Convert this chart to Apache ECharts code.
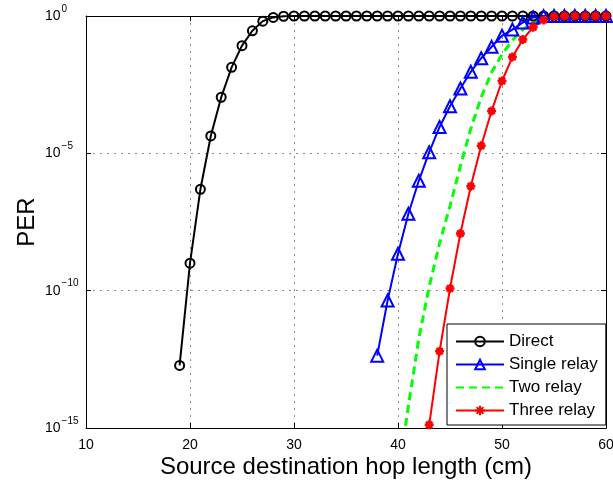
<!DOCTYPE html>
<html>
<head>
<meta charset="utf-8">
<script src="https://cdn.jsdelivr.net/npm/echarts@6/dist/echarts.min.js"></script>
<style>html,body{margin:0;padding:0;background:#fff}#c{width:613px;height:480px}</style>
</head>
<body>
<div id="c"></div>
<script>
// ---- data ----
const seriesNames = ['Direct', 'Single relay', 'Two relay', 'Three relay'];
const directX = [19,20,21,22,23,24,25,26,27,28,29,30,31,32,33,34,35,36,37,38,39,40,41,42,43,44,45,46,47,48,49,50,51,52,53,54,55,56,57,58,59,60];
const directPER = [1.9e-13,1.0e-9,4.9e-7,4.3e-5,1.1e-3,1.35e-2,8.3e-2,0.29,0.65,0.89,0.98,1,1,1,1,1,1,1,1,1,1,1,1,1,1,1,1,1,1,1,1,1,1,1,1,1,1,1,1,1,1,1];
const singleX = [38,39,40,41,42,43,44,45,46,47,48,49,50,51,52,53,54,55,56,57,58,59,60];
const singlePER = [4.3e-13,4.4e-11,2.2e-9,6.3e-8,1.0e-6,1.1e-5,9.1e-5,5.2e-4,2.3e-3,9.3e-3,2.9e-2,7.6e-2,0.19,0.32,0.58,0.89,0.99,1,1,1,1,1,1];
const twoX = [40,41,42,43,44,45,46,47,48,49,50,51,52,53,54,55,56,57,58,59,60];
const twoPER = [1.6e-17,6.3e-15,1.8e-12,1.4e-10,5.4e-9,1.2e-7,3.5e-6,7.9e-5,1.1e-3,8.9e-3,0.040,0.13,0.32,0.60,0.87,0.98,1,1,1,1,1];
const threeX = [43,44,45,46,47,48,49,50,51,52,53,54,55,56,57,58,59,60];
const threePER = [1.3e-15,6.2e-13,1.2e-10,1.2e-8,6.3e-7,1.9e-5,3.5e-4,4.3e-3,3.2e-2,0.14,0.39,0.71,0.95,1,1,1,1,1];
const xTicks = [10,20,30,40,50,60];
const yTickExponents = [-15,-10,-5,0];

// ---- chart ----
const FONT = 'Liberation Sans, Arial, Helvetica, sans-serif';
const pair = (xs, ys) => xs.map((x, i) => [x, ys[i]]);
const chart = echarts.init(document.getElementById('c'), null, {renderer: 'canvas'});
const gridLine = {show: true, lineStyle: {color: '#8c8c8c', width: 1, type: [2, 5]}};
const boxLine = {show: true, onZero: false, lineStyle: {color: '#000', width: 1}};
const tickIn = {show: true, inside: true, length: 5, lineStyle: {color: '#000', width: 1}};
const asterisk = 'path://M5,0L5,10M0,5L10,5M1.5,1.5L8.5,8.5M1.5,8.5L8.5,1.5';

chart.setOption({
  animation: false,
  backgroundColor: '#fff',
  grid: {left: 86, top: 16, right: 7, bottom: 52, containLabel: false, outerBoundsMode: 'none'},
  xAxis: [{
    type: 'value', min: xTicks[0], max: xTicks[xTicks.length - 1], interval: 10,
    position: 'bottom',
    axisLine: boxLine, axisTick: tickIn, splitLine: gridLine,
    axisLabel: {color: '#000', fontSize: 14, fontFamily: FONT, margin: 10,
      formatter: v => xTicks.includes(v) ? String(v) : ''},
    name: 'Source destination hop length (cm)', nameLocation: 'middle', nameGap: 27,
    nameMoveOverlap: false,
    nameTextStyle: {color: '#000', fontSize: 24, fontFamily: FONT}
  }, {
    type: 'value', min: xTicks[0], max: xTicks[xTicks.length - 1], interval: 10,
    position: 'top', axisLine: boxLine, axisTick: tickIn, splitLine: {show: false},
    axisLabel: {show: false}
  }],
  yAxis: [{
    type: 'log', logBase: 10, min: Math.pow(10, yTickExponents[0]), max: Math.pow(10, yTickExponents[yTickExponents.length - 1]), interval: 5,
    position: 'left',
    axisLine: boxLine, axisTick: tickIn, splitLine: gridLine, minorTick: {show: false},
    axisLabel: {
      color: '#000', fontFamily: FONT, align: 'left', margin: 41,
      formatter: v => {
        const e = Math.round(Math.log10(v));
        return '{b|10}{s|' + (e < 0 ? '\u2212' + (-e) : String(e)) + '}';
      },
      rich: {
        b: {fontSize: 14, fontFamily: FONT, color: '#000'},
        s: {fontSize: 10, fontFamily: FONT, color: '#000', padding: [0, 0, 14, 1]}
      }
    },
    name: 'PER', nameLocation: 'middle', nameGap: 47, nameRotate: 90,
    nameMoveOverlap: false,
    nameTextStyle: {color: '#000', fontSize: 24, fontFamily: FONT}
  }, {
    type: 'log', logBase: 10, min: Math.pow(10, yTickExponents[0]), max: 1, interval: 5,
    position: 'right', axisLine: boxLine, axisTick: tickIn, splitLine: {show: false},
    axisLabel: {show: false}
  }],
  legend: {
    orient: 'vertical', left: 447, top: 324,
    padding: [9, 8, 6, 8], itemGap: 6, itemWidth: 48, itemHeight: 12,
    backgroundColor: '#fff', borderColor: '#000', borderWidth: 1, borderRadius: 0,
    textStyle: {color: '#000', fontSize: 17, fontFamily: FONT},
    data: seriesNames
  },
  series: [{
    name: seriesNames[0], type: 'line', data: pair(directX, directPER),
    symbol: 'circle', symbolSize: 9, showAllSymbol: true,
    lineStyle: {color: '#000', width: 2},
    itemStyle: {color: 'rgba(0,0,0,0)', borderColor: '#000', borderWidth: 2}
  }, {
    name: seriesNames[1], type: 'line', data: pair(singleX, singlePER),
    symbol: 'triangle', symbolSize: 12, showAllSymbol: true,
    lineStyle: {color: '#0000ff', width: 2},
    itemStyle: {color: 'rgba(0,0,0,0)', borderColor: '#0000ff', borderWidth: 2}
  }, {
    name: seriesNames[2], type: 'line', data: pair(twoX, twoPER),
    symbol: 'none',
    lineStyle: {color: '#00ff00', width: 3, type: [8, 5]},
    itemStyle: {color: 'rgba(0,0,0,0)', borderColor: 'rgba(0,0,0,0)', borderWidth: 0}
  }, {
    name: seriesNames[3], type: 'line', data: pair(threeX, threePER),
    symbol: asterisk, symbolSize: 9, showAllSymbol: true,
    lineStyle: {color: '#ff0000', width: 2},
    itemStyle: {color: '#ff0000', borderColor: '#ff0000', borderWidth: 2.5}
  }]
});
</script>
</body>
</html>
